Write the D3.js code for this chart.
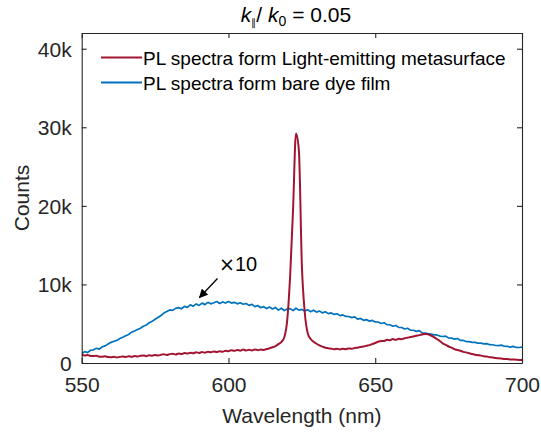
<!DOCTYPE html>
<html>
<head>
<meta charset="utf-8">
<script src="https://cdn.jsdelivr.net/npm/d3@7"></script>
<style>
  body { margin: 0; background: #fff; }
  svg { font-family: Arial, "Liberation Sans", Helvetica, sans-serif; }
</style>
</head>
<body>
<div id="chart"></div>
<script>
// wavelength grid (nm), 1 nm steps from 550 to 700
var wlStart = 550, wlEnd = 700;

// PL of light-emitting metasurface (counts), one value per nm
var metasurface = [
  1050, 960, 1030, 900, 880, 930, 800, 810, 850, 750,
  740, 800, 700, 780, 820, 760, 850, 790, 880, 820,
  910, 960, 870, 990, 930, 1030, 950, 1050, 1110, 1020,
  1130, 1170, 1080, 1210, 1140, 1260, 1200, 1310, 1250, 1360,
  1280, 1390, 1320, 1430, 1360, 1460, 1390, 1500, 1420, 1570,
  1490, 1630, 1550, 1660, 1570, 1710, 1600, 1690, 1590, 1730,
  1630, 1710, 1650, 1780, 1870, 2000, 2150, 2400, 2650, 3250,
  5400, 11000, 19500, 29200, 27000, 12500, 6400, 3800, 3050, 2700,
  2450, 2250, 2080, 1950, 1880, 1820, 1760, 1800, 1730, 1820,
  1760, 1860, 1810, 1910, 1950, 2040, 2090, 2190, 2280, 2410,
  2540, 2710, 2810, 2790, 2960, 2890, 3040, 2950, 3090, 3010,
  3160, 3220, 3310, 3370, 3460, 3550, 3630, 3700, 3650, 3500,
  3300, 3050, 2800, 2500, 2300, 2100, 1950, 1750, 1650, 1550,
  1420, 1350, 1230, 1150, 1060, 1000, 940, 860, 820, 740,
  700, 630, 600, 560, 520, 500, 460, 450, 420, 390,
  380
];

// PL of bare dye film, x10 (counts), one value per nm
var dyeFilm = [
  1200, 1450, 1330, 1620, 1680, 1870, 1760, 2070, 2180, 2420,
  2630, 2770, 2880, 3120, 3280, 3470, 3630, 3920, 4080, 4270,
  4430, 4670, 4830, 5120, 5300, 5560, 5800, 6050, 6350, 6550,
  6750, 6700, 6950, 7050, 6900, 7200, 7080, 7400, 7230, 7520,
  7330, 7620, 7430, 7720, 7530, 7670, 7820, 7580, 7770, 7630,
  7820, 7630, 7720, 7530, 7670, 7480, 7570, 7330, 7470, 7180,
  7320, 7030, 7170, 6930, 7120, 6880, 7070, 6730, 6970, 6680,
  6870, 6920, 6680, 6970, 6730, 6820, 6630, 6770, 6530, 6720,
  6480, 6620, 6380, 6520, 6280, 6370, 6180, 6270, 6030, 6120,
  5930, 5920, 5780, 5870, 5580, 5670, 5430, 5520, 5330, 5420,
  5230, 5220, 5030, 5120, 4880, 4870, 4680, 4770, 4530, 4520,
  4330, 4420, 4180, 4170, 4030, 4120, 3830, 3820, 3730, 3670,
  3580, 3570, 3430, 3370, 3420, 3180, 3170, 3030, 3120, 2880,
  2870, 2730, 2720, 2630, 2620, 2530, 2520, 2430, 2470, 2330,
  2320, 2230, 2220, 2270, 2130, 2120, 2030, 2120, 1980, 1970,
  2020
];

var xTicks = [550, 600, 650, 700];
var yTicks = [0, 10000, 20000, 30000, 40000];
var yTickLabels = ["0", "10k", "20k", "30k", "40k"];
var legendLabels = ["PL spectra form Light-emitting metasurface", "PL spectra form bare dye film"];
var colors = ["#A2142F", "#0072BD"];

var width = 541, height = 432;
var margin = {top: 33, right: 19, bottom: 69, left: 81.7};
var axisColor = "#262626";

var svg = d3.select("#chart").append("svg")
  .attr("width", width)
  .attr("height", height);

var x = d3.scaleLinear()
  .domain([wlStart, wlEnd])
  .range([margin.left, width - margin.right]);

var y = d3.scaleLinear()
  .domain([0, 42000])
  .range([height - margin.bottom, margin.top]);

function toPoints(values) {
  return values.map(function(v, i) { return {wl: wlStart + i, c: v}; });
}

svg.append("clipPath").attr("id", "clip")
  .append("rect")
  .attr("x", x(wlStart)).attr("y", y(42000))
  .attr("width", x(wlEnd) - x(wlStart))
  .attr("height", y(0) - y(42000));

var series = [
  {name: legendLabels[0], values: metasurface, color: colors[0], w: 2, curve: d3.curveMonotoneX},
  {name: legendLabels[1], values: dyeFilm, color: colors[1], w: 1.7, curve: d3.curveLinear}
];

// draw blue first so the red peak sits on top like the original
svg.append("g").attr("clip-path", "url(#clip)")
  .selectAll("path")
  .data([series[1], series[0]])
  .enter()
  .append("path")
  .attr("d", function(d) {
    return d3.line()
      .x(function(p) { return x(p.wl); })
      .y(function(p) { return y(p.c); })
      .curve(d.curve)(toPoints(d.values));
  })
  .attr("fill", "none")
  .attr("stroke", function(d) { return d.color; })
  .attr("stroke-width", function(d) { return d.w; })
  .attr("stroke-linejoin", "round");

// axes, box style with inward ticks
var xBottom = svg.append("g")
  .attr("transform", "translate(0," + y(0) + ")")
  .call(d3.axisBottom(x).tickValues(xTicks).tickSizeInner(-5).tickSizeOuter(0).tickPadding(14));
var xTop = svg.append("g")
  .attr("transform", "translate(0," + y(42000) + ")")
  .call(d3.axisTop(x).tickValues(xTicks).tickSizeInner(-5).tickSizeOuter(0).tickFormat(""));
var yLeft = svg.append("g")
  .attr("transform", "translate(" + x(wlStart) + ",0)")
  .call(d3.axisLeft(y).tickValues(yTicks).tickSizeInner(-5).tickSizeOuter(0).tickPadding(10)
    .tickFormat(function(d, i) { return yTickLabels[i]; }));
var yRight = svg.append("g")
  .attr("transform", "translate(" + x(wlEnd) + ",0)")
  .call(d3.axisRight(y).tickValues(yTicks).tickSizeInner(-5).tickSizeOuter(0).tickFormat(""));

[xBottom, xTop, yLeft, yRight].forEach(function(g) {
  g.select(".domain").attr("stroke", axisColor).attr("stroke-width", 1.1);
  g.selectAll(".tick line").attr("stroke", axisColor).attr("stroke-width", 1.1);
  g.selectAll(".tick text")
    .attr("fill", axisColor)
    .attr("font-size", 21)
    .attr("font-family", "Arial, 'Liberation Sans', sans-serif");
});
xBottom.selectAll(".tick text").attr("dy", "0.71em");
yLeft.selectAll(".tick text").attr("dy", "0.35em");

// axis labels
svg.append("text")
  .attr("x", (x(wlStart) + x(wlEnd)) / 2)
  .attr("y", 423)
  .attr("text-anchor", "middle")
  .attr("font-size", 21)
  .attr("fill", axisColor)
  .text("Wavelength (nm)");

svg.append("text")
  .attr("transform", "translate(29," + (y(0) + y(42000)) / 2 + ") rotate(-90)")
  .attr("text-anchor", "middle")
  .attr("font-size", 21)
  .attr("fill", axisColor)
  .text("Counts");

// title: k∥ / k0 = 0.05
var title = svg.append("text")
  .attr("x", 296)
  .attr("y", 22)
  .attr("text-anchor", "middle")
  .attr("font-size", 21)
  .attr("fill", "#000");
title.append("tspan").attr("font-style", "italic").text("k");
title.append("tspan").attr("font-size", 10).attr("dy", 4).text("\u2225");
title.append("tspan").attr("dy", -4).text("/ ");
title.append("tspan").attr("font-style", "italic").text("k");
title.append("tspan").attr("font-size", 14).attr("dy", 4).text("0");
title.append("tspan").attr("dy", -4).text(" = 0.05");

// legend
var legend = svg.append("g");
series.forEach(function(s, i) {
  var ly = 57.5 + i * 25;
  legend.append("line")
    .attr("x1", 101).attr("x2", 142)
    .attr("y1", ly).attr("y2", ly)
    .attr("stroke", s.color)
    .attr("stroke-width", 2);
  legend.append("text")
    .attr("x", 143)
    .attr("y", ly + 7)
    .attr("font-size", 19)
    .attr("fill", "#000")
    .text(s.name);
});

// x10 annotation for the dye film curve
svg.append("defs").append("marker")
  .attr("id", "arrow")
  .attr("viewBox", "0 0 10 10")
  .attr("refX", 9).attr("refY", 5)
  .attr("markerWidth", 9).attr("markerHeight", 9)
  .attr("markerUnits", "userSpaceOnUse")
  .attr("orient", "auto")
  .append("path")
  .attr("d", "M0,0 L10,5 L0,10 z")
  .attr("fill", "#000");

svg.append("line")
  .attr("x1", 217.5).attr("y1", 278.5)
  .attr("x2", 199.5).attr("y2", 297.5)
  .attr("stroke", "#000")
  .attr("stroke-width", 1.3)
  .attr("marker-end", "url(#arrow)");

var ann = svg.append("text")
  .attr("x", 219)
  .attr("y", 271)
  .attr("font-size", 20)
  .attr("fill", "#000");
ann.append("tspan").attr("font-family", "'DejaVu Sans', sans-serif").attr("font-size", 19).text("\u00d7");
ann.append("tspan").text("10");
</script>
</body>
</html>
